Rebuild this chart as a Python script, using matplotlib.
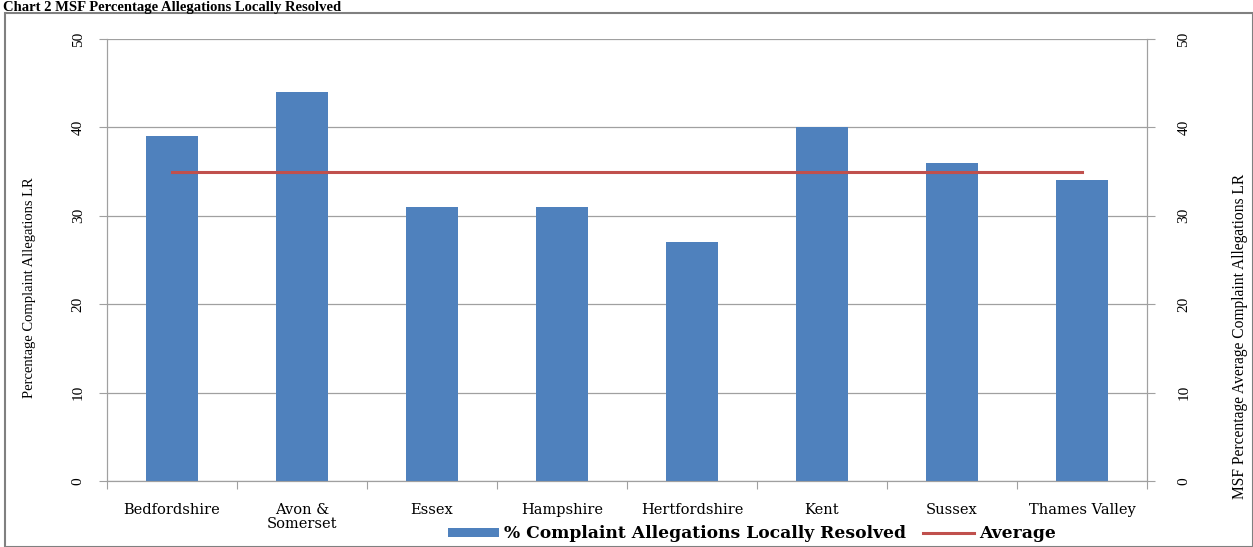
import numpy as np
import matplotlib
matplotlib.use("Agg")
from matplotlib import pyplot as plt
from matplotlib.patches import Rectangle

forces = ["Bedfordshire", "Avon &\nSomerset", "Essex", "Hampshire",
          "Hertfordshire", "Kent", "Sussex", "Thames Valley"]
pct_resolved = [39, 44, 31, 31, 27, 40, 36, 34]
average = [35, 35, 35, 35, 35, 35, 35, 35]
yticks = [0, 10, 20, 30, 40, 50]

serif = "Liberation Serif"
wide_serif = "DejaVu Serif"
grey = "#a0a0a0"

fig = plt.figure(figsize=(12.53, 5.47), dpi=100)
W, H = 1253, 547

# outer frame of the chart object
fig.patches.append(Rectangle((5 / W, 0), 1 - 5 / W, 1 - 13 / H, transform=fig.transFigure,
                             fill=False, edgecolor="#808080", linewidth=1.5))
fig.text(3 / W, 1 - 1 / H, "Chart 2 MSF Percentage Allegations Locally Resolved",
         fontfamily=serif, fontweight="bold", fontsize=10.5, va="top", ha="left")

ax = fig.add_axes([107 / W, 1 - 481 / H, 1040 / W, 442 / H])
x = np.arange(len(forces))
ax.bar(x, pct_resolved, width=0.4, color="#4f81bd", zorder=3,
       label="% Complaint Allegations Locally Resolved")
ax2 = ax.twinx()
ax2.plot(x, average, color="#c0504d", linewidth=2.2, label="Average")

for a, pad in ((ax, 10), (ax2, 16)):
    a.set_ylim(0, 50)
    a.set_yticks(yticks)
    a.set_xlim(-0.5, len(forces) - 0.5)
    for s in a.spines.values():
        s.set_color(grey)
    a.tick_params(axis="y", direction="out", length=6, color=grey, pad=pad,
                  labelsize=11, labelrotation=90)
    for lab in a.get_yticklabels():
        lab.set_fontfamily(serif)
        lab.set_va("center")
ax2.spines["top"].set_visible(False)
ax.spines["top"].set_visible(False)
ax.grid(axis="y", color=grey, linewidth=0.9, zorder=0)

ax.set_xticks(np.arange(len(forces) + 1) - 0.5)
ax.set_xticklabels([])
ax.set_xticks(x, minor=True)
ax.set_xticklabels(forces, minor=True, fontfamily=wide_serif, fontsize=10.5,
                   linespacing=1.0, va="top")
ax.tick_params(axis="x", which="major", direction="out", length=6, color=grey)
ax.tick_params(axis="x", which="minor", length=0, pad=16)

# axis titles placed by hand, top-aligned as in the chart object
fig.text(30 / W, 1 - 177 / H, "Percentage Complaint Allegations LR", rotation=90,
         fontfamily=serif, fontsize=10.5, ha="center", va="top")
fig.text(1240 / W, 1 - 174 / H, "MSF Percentage Average Complaint Allegations LR",
         rotation=90, fontfamily=serif, fontsize=11.2, ha="center", va="top")

h1, l1 = ax.get_legend_handles_labels()
h2, l2 = ax2.get_legend_handles_labels()
fig.legend(h1 + h2, l1 + l2, loc="center", bbox_to_anchor=(752 / W, 1 - 534 / H),
           ncol=2, frameon=False,
           prop={"family": wide_serif, "weight": "bold", "size": 12.3},
           handlelength=3.0, handleheight=0.45, handletextpad=0.3, columnspacing=1.0)

fig.savefig("out.png", dpi=100)
